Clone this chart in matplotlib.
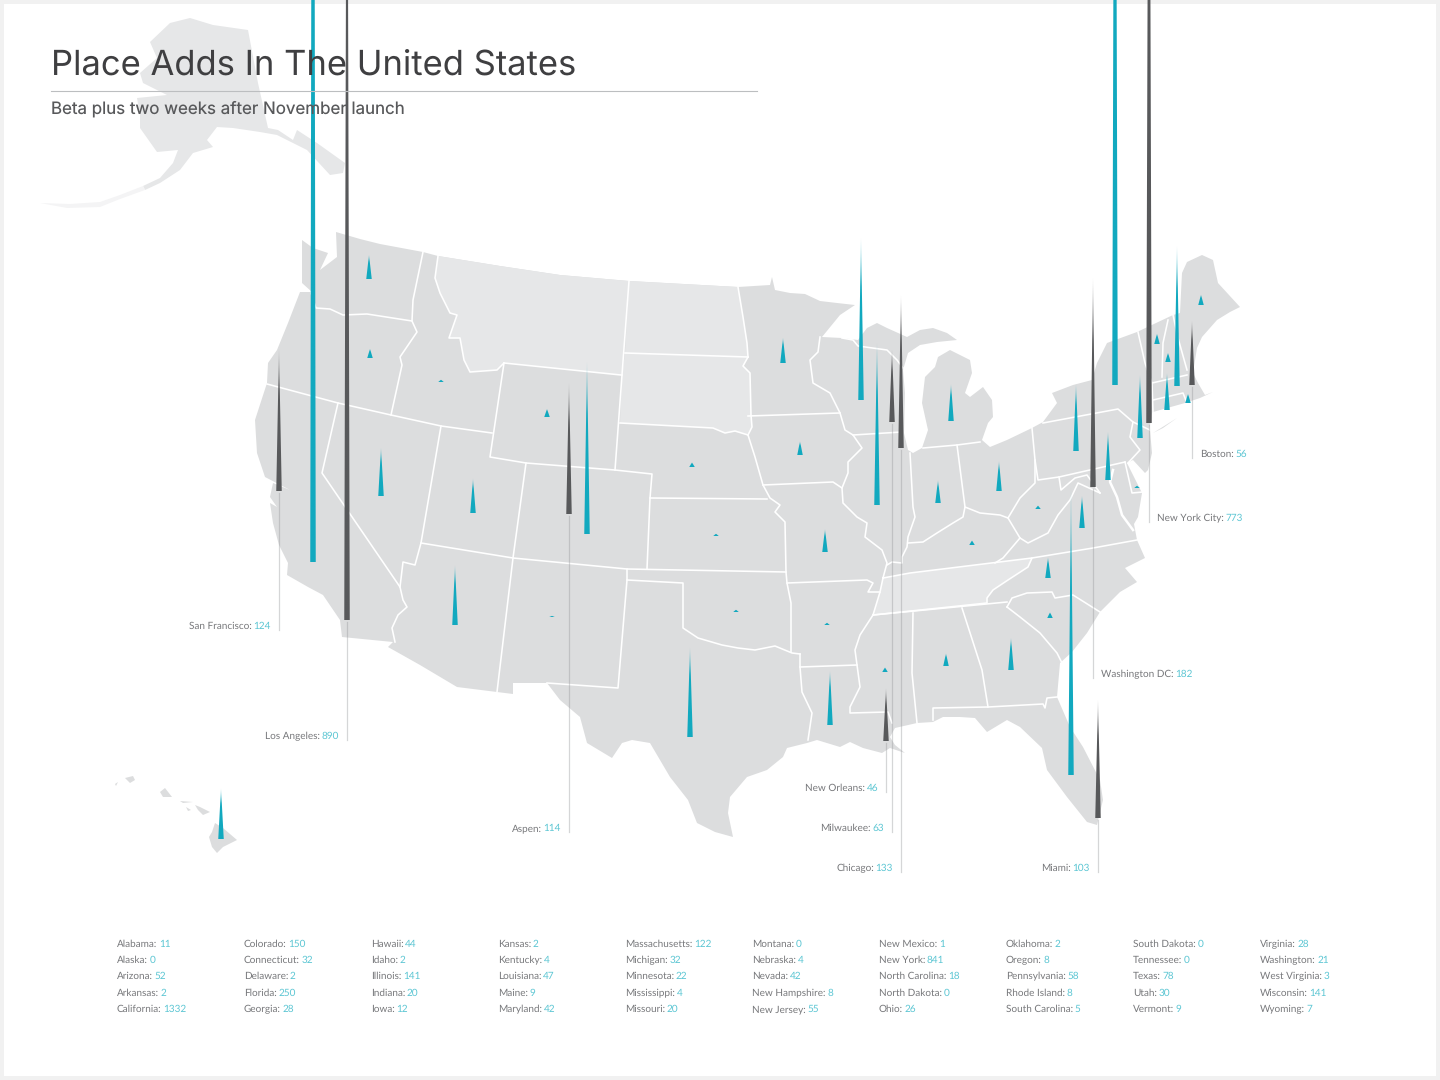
import numpy as np
import matplotlib
matplotlib.use('Agg')
import matplotlib.pyplot as plt
from matplotlib.patches import Polygon, Rectangle
from matplotlib.colors import to_rgb

plt.rcParams['text.hinting'] = 'no_hinting'
plt.rcParams['text.hinting_factor'] = 1

# state table, alphabetical, same order as the list at the bottom
state_names = ['Alabama', 'Alaska', 'Arizona', 'Arkansas', 'California',
               'Colorado', 'Connecticut', 'Delaware', 'Florida', 'Georgia',
               'Hawaii', 'Idaho', 'Illinois', 'Indiana', 'Iowa',
               'Kansas', 'Kentucky', 'Louisiana', 'Maine', 'Maryland',
               'Massachusetts', 'Michigan', 'Minnesota', 'Mississippi', 'Missouri',
               'Montana', 'Nebraska', 'Nevada', 'New Hampshire', 'New Jersey',
               'New Mexico', 'New York', 'North Carolina', 'North Dakota', 'Ohio',
               'Oklahoma', 'Oregon', 'Pennsylvania', 'Rhode Island', 'South Carolina',
               'South Dakota', 'Tennessee', 'Texas', 'Utah', 'Vermont',
               'Virginia', 'Washington', 'West Virginia', 'Wisconsin', 'Wyoming']
state_values = [11, 0, 52, 2, 1332,
                150, 32, 2, 250, 28,
                44, 2, 141, 20, 12,
                2, 4, 47, 9, 42,
                122, 32, 22, 4, 20,
                0, 4, 42, 8, 55,
                1, 841, 18, 0, 26,
                2, 8, 58, 8, 5,
                0, 0, 78, 30, 9,
                28, 21, 3, 141, 7]
state_x = [946, 0, 455, 827, 313,
           587, 1167, 1137, 1071, 1011,
           221, 441, 877, 938, 800,
           716, 972, 830, 1201, 1108,
           1177, 951, 783, 885, 825,
           0, 692, 381, 1168, 1140,
           552, 1115, 1048, 0, 999,
           736, 370, 1076, 1188, 1050,
           0, 0, 690, 473, 1157,
           1082, 369, 1038, 861, 547]
state_y = [666, 0, 625, 625, 562,
           534, 410, 488, 775, 670,
           839, 382, 505, 503, 455,
           536, 545, 725, 305, 480,
           386, 421, 363, 672, 552,
           0, 467, 496, 362, 438,
           617, 385, 578, 0, 491,
           612, 358, 451, 403, 618,
           0, 0, 737, 513, 344,
           528, 279, 509, 400, 417]

city_names = ['San Francisco', 'Los Angeles', 'Aspen', 'New Orleans', 'Milwaukee',
              'Chicago', 'Miami', 'Washington DC', 'New York City', 'Boston']
city_values = [124, 890, 114, 46, 63, 133, 103, 182, 773, 56]
city_x = [279, 347, 569, 886, 892, 901, 1098, 1093, 1149, 1192]
city_y = [491, 620, 514, 741, 422, 448, 818, 487, 423, 385]
city_line_end = [630, 740, 832, 792, 832, 872, 872, 678, 522, 458]
city_label_right = [False, False, False, False, False, False, False, True, True, True]

# map outline and borders, traced in pixels
outline = [(336,232),(360,239),(380,244),(423,252),(438,256),(500,266),(560,275),(629,281),(738,287),(770,285),
           (772,277),(775,290),(790,293),(805,294),(820,301),(837,303),(855,305),(840,315),(822,337),(842,338),
           (858,340),(867,328),(877,323),(887,328),(907,337),(920,330),(933,328),(947,333),(957,340),(937,342),
           (920,345),(908,353),(903,370),(905,393),(904,433),(908,450),(913,453),(922,448),(928,430),(922,403),
           (925,377),(935,367),(938,357),(950,350),(970,360),(972,373),(965,393),(970,397),(983,387),(992,400),
           (993,417),(988,423),(982,440),(990,447),(1007,440),(1032,428),(1043,422),(1057,403),(1052,393),(1073,385),
           (1092,380),(1097,363),(1107,343),(1137,332),(1173,315),(1180,313),(1182,273),(1187,262),(1202,255),(1213,260),
           (1218,283),(1240,307),(1230,312),(1217,320),(1202,337),(1197,348),(1193,373),(1198,383),(1205,395),(1213,392),
           (1200,398),(1185,403),(1153,412),(1150,430),(1152,453),(1148,470),(1145,473),(1133,460),(1127,463),(1142,493),
           (1138,517),(1134,524),(1137,540),(1145,558),(1125,568),(1137,582),(1120,592),(1100,612),(1087,633),(1072,652),
           (1060,663),(1057,697),(1070,727),(1083,747),(1100,780),(1103,800),(1097,825),(1087,822),(1067,797),(1047,770),
           (1042,748),(1020,727),(1007,720),(987,732),(975,718),(960,717),(943,717),(933,722),(917,723),(895,728),
           (890,737),(895,745),(905,753),(890,748),(882,753),(863,748),(850,742),(840,747),(817,740),(807,743),
           (787,748),(783,757),(767,770),(747,777),(730,797),(728,813),(733,837),(715,832),(697,823),(688,800),
           (670,777),(650,743),(632,740),(622,743),(612,758),(587,743),(580,717),(560,700),(547,683),(513,683),
           (513,694),(497,692),(457,687),(420,665),(388,647),(393,642),(342,637),(340,620),(323,595),(308,587),
           (287,575),(288,563),(279,545),(273,523),(270,503),(277,507),(270,497),(273,483),(290,490),(265,477),
           (257,453),(255,420),(267,383),(268,363),(277,350),(288,323),(300,292),(312,292),(302,283),(302,240),
           (313,248),(328,253),(320,270),(337,257)]
id_mt = [(438,256),(435,278),(440,293),(450,313),(457,315),(449,338),(460,338),(464,360),(470,372),(497,370),(504,363)]
wy_top = [(504,363),(621,375)]
mt_east = [(629,281),(622,375)]
nd_east = [(738,287),(743,317),(747,343),(748,357)]
nd_south = [(625,353),(748,357)]
sd_east = [(748,357),(743,366),(750,373),(751,415),(752,427),(748,435)]
sd_south = [(620,423),(713,428),(725,433),(735,431),(748,435)]
tn_poly = [(883,578),(910,573),(1032,558),(1028,567),(1008,580),(993,590),(987,598),(987,603),(873,615),(880,592)]

borders = [id_mt, wy_top, mt_east, nd_east, nd_south, sd_east, sd_south, tn_poly + [tn_poly[0]],
           [(311,293),(316,308),(330,309),(343,315),(367,314),(412,321)],
           [(423,252),(413,300),(412,321),(417,332),(400,357),(402,365),(391,415)],
           [(267,384),(338,403),(391,415),(441,426),(492,433)],
           [(338,403),(322,473),(400,587),(403,600),(407,607),(398,615),(392,628),(395,642)],
           [(441,426),(421,543),(415,565),(403,562),(400,587)],
           [(421,543),(513,558),(627,569),(786,572)],
           [(526,463),(513,558),(497,692)],
           [(504,363),(490,457),(526,463),(615,470),(652,474),(650,498),(647,569)],
           [(622,375),(615,470)],
           [(650,498),(767,499)],
           [(748,435),(755,457),(763,485),(770,498),(780,505),(775,512),(785,522),(786,572),(787,583),(791,603),(791,652)],
           [(748,416),(840,413)],
           [(820,337),(818,352),(810,360),(813,383),(830,393),(840,413),(845,430),(853,435),(862,448),(848,462),(848,473),
            (842,488),(843,503),(857,517),(867,523),(865,537),(882,550),(887,563),(883,578)],
           [(763,485),(833,482),(842,488)],
           [(853,435),(902,432)],
           [(842,338),(853,340),(858,346),(887,350),(897,360),(903,368)],
           [(910,453),(913,507),(915,517),(908,537),(907,547),(902,557),(902,563),(892,562),(887,565)],
           [(923,448),(957,445),(980,442)],
           [(957,445),(965,507)],
           [(908,543),(923,542),(937,533),(953,523),(963,517),(965,507),(980,513),(1000,515),(1008,518),(1020,498),(1035,483),(1035,460),(1032,428)],
           [(1035,460),(1038,480),(1059,477),(1125,462)],
           [(1059,477),(1061,490),(1075,478),(1087,475),(1100,493)],
           [(1008,518),(1020,538),(1028,543),(1048,533),(1058,515),(1070,500),(1078,483),(1100,493)],
           [(1020,538),(1003,558),(995,563)],
           [(1032,558),(1093,548),(1137,540)],
           [(787,583),(867,580),(873,583),(868,592),(880,592)],
           [(873,615),(860,635),(855,650),(857,665),(860,687),(850,707),(850,713),(888,712),(892,723)],
           [(800,667),(857,665)],
           [(800,654),(800,667),(802,692),(812,713),(808,740)],
           [(627,580),(683,583),(683,628),(698,638),(722,645),(738,648),(755,650),(775,646),(792,653),(800,654)],
           [(627,569),(627,580),(618,688),(547,683)],
           [(913,613),(912,673),(917,723)],
           [(962,608),(982,670),(988,707),(933,708),(933,720)],
           [(873,615),(1007,602)],
           [(988,707),(1043,704),(1045,708),(1047,698),(1057,697)],
           [(1007,607),(1020,617),(1040,633),(1057,653),(1062,663)],
           [(1007,607),(1012,598),(1027,593),(1052,592),(1055,598),(1073,595),(1100,612)],
           [(1043,423),(1118,409),(1133,422),(1130,437),(1140,450),(1128,463)],
           [(1133,422),(1150,430)],
           [(1138,332),(1145,363),(1152,383),(1153,412),(1150,430)],
           [(1168,320),(1163,343),(1162,377)],
           [(1152,383),(1187,375)],
           [(1153,400),(1183,393),(1187,403)],
           [(1173,315),(1178,338),(1187,370)],
           [(1125,462),(1132,493),(1143,492)]]
bay = [(1113,470),(1110,482),(1117,497),(1122,515),(1133,530)]

alaska = [(150,42),(170,23),(190,18),(213,25),(248,30),(258,83),(268,128),(278,130),(293,140),(297,130),(317,143),
          (345,163),(343,173),(330,175),(307,150),(277,135),(260,132),(233,128),(217,127),(207,140),(213,147),(193,153),
          (180,170),(160,183),(145,190),(143,186),(160,178),(173,163),(178,150),(157,152),
          (140,128),(140,115),(137,98),(167,95),(143,83),(140,73),(157,58)]
aleutians = [(145,190),(120,199),(100,207),(67,208),(40,203),(70,204),(100,202),(120,195),(143,186)]
hawaii = [[(212,832),(215,823),(223,828),(237,840),(223,847),(217,853),(212,847),(209,837)],
          [(195,805),(200,807),(210,812),(203,815),(198,810)],
          [(160,792),(165,788),(172,797),(163,797)],
          [(125,778),(133,776),(135,780),(130,783)],
          [(180,801),(193,802),(183,803)],
          [(186,807),(191,810),(188,811)],
          [(115,784),(118,782),(116,786)]]
long_island = [(1153,433),(1177,418),(1163,428)]

land = '#dcddde'
light = '#e6e7e8'
teal = '#12a9bf'
dark = '#58595b'
label_grey = '#77787b'
value_blue = '#5cc6d3'
font = 'Lato'
px_per_add = 1.15
spike_width = 5.5

fig = plt.figure(figsize=(14.4, 10.8), dpi=100, facecolor='#f1f1f1')
ax = fig.add_axes([0, 0, 1, 1])
ax.axis('off')
ax.add_patch(Rectangle((4, 4), 1432, 1072, fc='white', ec='none', zorder=0))


def draw_spike(x, base, value, color):
    if value == 0:
        return
    h = value * px_per_add
    t = np.linspace(0, 1, 200)
    rgba = np.zeros((200, 1, 4))
    rgba[:, 0, :3] = to_rgb(color)
    rgba[:, 0, 3] = np.clip(0.25 + t * 2.5, 0, 1)
    im = ax.imshow(rgba, extent=(x - spike_width / 2, x + spike_width / 2, base, base - h),
                   origin='upper', aspect='auto', interpolation='bilinear', zorder=5)
    tri = Polygon([(x - spike_width / 2, base), (x + spike_width / 2, base), (x, base - h)],
                  transform=ax.transData, fc='none', ec='none')
    ax.add_patch(tri)
    im.set_clip_path(tri)


def two_tone(x, y, label, value, size, right=False):
    # grey name then blue number on one baseline
    renderer = fig.canvas.get_renderer()
    t1 = ax.text(x, y, label + ':', color=label_grey, fontsize=size, family=font, va='baseline', zorder=8)
    w1 = t1.get_window_extent(renderer).width
    t2 = ax.text(x + w1 + 1.5, y, str(value), color=value_blue, fontsize=size, family=font, va='baseline', zorder=8)
    if right:
        w2 = t2.get_window_extent(renderer).width
        t1.set_x(x - w1 - w2 - 1.5)
        t2.set_x(x - w2)


ax.add_patch(Polygon(alaska, fc=light, ec='none', zorder=1))
ax.add_patch(Polygon(aleutians, fc='#f4f4f5', ec='none', zorder=1))
ax.add_patch(Polygon(outline, fc=land, ec='none', zorder=1))
ax.add_patch(Polygon(long_island, fc=land, ec='none', zorder=1))
for isle in hawaii:
    ax.add_patch(Polygon(isle, fc=land, ec='none', zorder=1))

# states with no adds are lighter
mt_poly = id_mt + wy_top[1:] + mt_east[::-1] + [(560,275),(500,266)]
nd_poly = [(629,281),(738,287),(743,317),(747,343),(748,357),(625,353)]
sd_poly = [(625,353),(748,357)] + sd_east[1:] + sd_south[::-1][1:] + [(622,375)]
for poly in [mt_poly, nd_poly, sd_poly, tn_poly]:
    ax.add_patch(Polygon(poly, fc=light, ec='none', zorder=2))

for line in borders:
    xs, ys = zip(*line)
    ax.plot(xs, ys, color='white', lw=1.15, solid_joinstyle='round', zorder=3)
xs, ys = zip(*bay)
ax.plot(xs, ys, color='white', lw=1.8, zorder=3)

# leader lines for the cities
for i in range(len(city_names)):
    ax.plot([city_x[i], city_x[i]], [city_y[i] + 2, city_line_end[i]], color='#939598', alpha=0.38, lw=0.9, zorder=4)

for i in range(len(state_names)):
    draw_spike(state_x[i], state_y[i], state_values[i], teal)
for i in range(len(city_names)):
    draw_spike(city_x[i], city_y[i], city_values[i], dark)

for i in range(len(city_names)):
    if city_label_right[i]:
        two_tone(city_x[i] + 8, city_line_end[i] - 1, city_names[i], city_values[i], 7.1)
    else:
        two_tone(city_x[i] - 8, city_line_end[i] - 1, city_names[i], city_values[i], 7.1, right=True)

col_x = [117, 244, 371, 498, 625, 752, 879, 1006, 1133, 1260]
row_y = [947, 963, 979, 996, 1012]
for i in range(len(state_names)):
    two_tone(col_x[i // 5], row_y[i % 5], state_names[i], state_values[i], 7.1)

ax.text(51, 75.5, 'Place Adds In The United States', color='#3f3f41', fontsize=24.9, family='Inter', va='baseline', zorder=8)
ax.plot([51, 757], [90.5, 90.5], color='#bcbec0', lw=0.8, zorder=6)
ax.text(51, 113.5, 'Beta plus two weeks after November launch', color='#58595b', fontsize=12.2, family='Inter', va='baseline', zorder=8)

ax.set_xlim(0, 1440)
ax.set_ylim(1080, 0)
fig.savefig('out.png', dpi=100, facecolor=fig.get_facecolor())
